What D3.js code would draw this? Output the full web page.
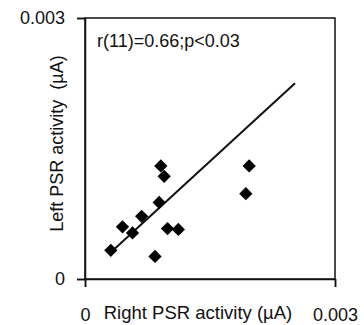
<!DOCTYPE html>
<html>
<head>
<meta charset="utf-8">
<script src="https://cdn.jsdelivr.net/npm/d3@7"></script>
<style>
  body { margin: 0; background: #fff; }
  svg text { font-family: "Liberation Sans", Arial, sans-serif; fill: #111; white-space: pre; }
</style>
</head>
<body>
<div class="psr-chart"></div>
<script>
// right vs left PSR activity, one point per subject
const rightPSR = [0.00031, 0.00045, 0.00057, 0.00068, 0.00084, 0.00089, 0.00091, 0.00095, 0.00099, 0.00112, 0.00197, 0.00193]
const leftPSR  = [0.00033, 0.00060, 0.00053, 0.00072, 0.00026, 0.00088, 0.00130, 0.00118, 0.00058, 0.00057, 0.00130, 0.00098]

// trend line end points as drawn
const trendX = [0.00036, 0.00252]
const trendY = [0.00035, 0.00225]

const tickValues = [0, 0.003]
const tickLabels = ['0', '0.003']
const statText = 'r(11)=0.66;p<0.03'
const xTitle = 'Right PSR activity (\u00b5A)'
const yTitle = 'Left PSR activity  (\u00b5A)'

const width = 364
const height = 325
const margin = { top: 18, right: 29, bottom: 46, left: 85 }

const x = d3.scaleLinear().domain([0, 0.003]).range([margin.left, width - margin.right])
const y = d3.scaleLinear().domain([0, 0.003]).range([height - margin.bottom, margin.top])

const svg = d3.select('.psr-chart')
  .append('svg')
  .attr('width', width)
  .attr('height', height)

// frame
svg.append('rect')
  .attr('x', x(0))
  .attr('y', y(0.003))
  .attr('width', x(0.003) - x(0))
  .attr('height', y(0) - y(0.003))
  .attr('fill', 'none')
  .attr('stroke', '#111')
  .attr('stroke-width', 1.5)

const fmt = v => tickLabels[tickValues.indexOf(v)]

const yAxis = svg.append('g')
  .attr('transform', `translate(${x(0)},0)`)
  .call(d3.axisLeft(y).tickValues(tickValues).tickFormat(fmt).tickSize(8).tickPadding(12))

const xAxis = svg.append('g')
  .attr('transform', `translate(0,${y(0)})`)
  .call(d3.axisBottom(x).tickValues(tickValues).tickFormat(fmt).tickSize(8).tickPadding(21))

;[xAxis, yAxis].forEach(a => {
  a.select('.domain').attr('stroke', '#111').attr('stroke-width', 1.5)
  a.selectAll('.tick line').attr('stroke', '#111').attr('stroke-width', 1.5)
  a.selectAll('.tick text').attr('font-size', 18).attr('fill', '#111')
    .style('font-family', '"Liberation Sans", Arial, sans-serif')
})

// trend line
svg.append('line')
  .attr('x1', x(trendX[0])).attr('y1', y(trendY[0]))
  .attr('x2', x(trendX[1])).attr('y2', y(trendY[1]))
  .attr('stroke', '#111')
  .attr('stroke-width', 2)

// diamonds
svg.append('g')
  .selectAll('path')
  .data(rightPSR.map((d, i) => [d, leftPSR[i]]))
  .enter()
  .append('path')
  .attr('d', d3.symbol(d3.symbolSquare, 88))
  .attr('transform', d => `translate(${x(d[0])},${y(d[1])}) rotate(45)`)
  .attr('fill', '#000')

svg.append('text')
  .attr('x', 97)
  .attr('y', 47)
  .attr('font-size', 18)
  .text(statText)

svg.append('text')
  .attr('x', (x(0) + x(0.003)) / 2 - 12)
  .attr('y', 319)
  .attr('text-anchor', 'middle')
  .attr('font-size', 18.5)
  .text(xTitle)

svg.append('text')
  .attr('transform', `translate(63,${(y(0) + y(0.003)) / 2 - 5}) rotate(-90)`)
  .attr('text-anchor', 'middle')
  .attr('font-size', 18)
  .text(yTitle)
</script>
</body>
</html>
